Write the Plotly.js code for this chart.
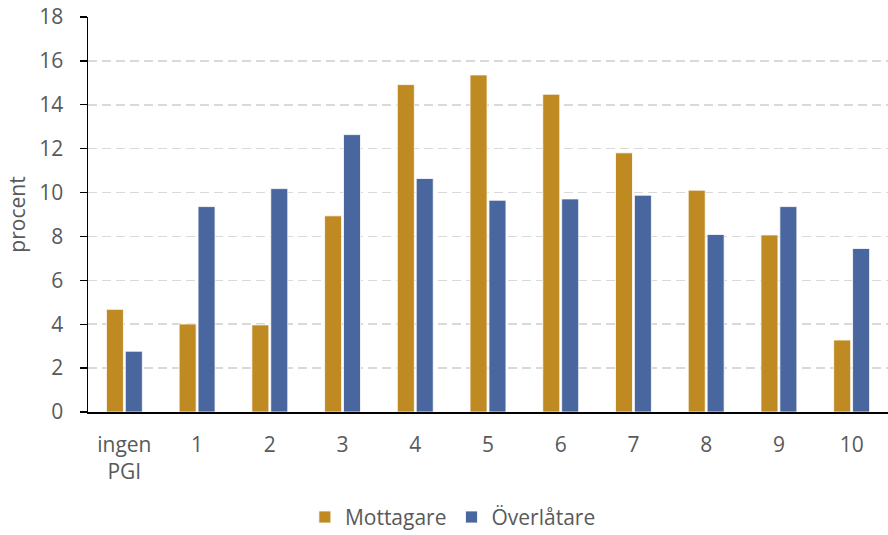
<!DOCTYPE html>
<html>
<head>
<meta charset="utf-8">
<script src="https://cdn.plot.ly/plotly-3.0.1.min.js"></script>
<style>html,body{margin:0;padding:0;background:#fff;}#chart{width:888px;height:535px;}</style>
</head>
<body>
<div id="chart"></div>
<script>
const categories = ["ingen<br>PGI", "1", "2", "3", "4", "5", "6", "7", "8", "9", "10"];
const mottagare = [4.68, 4.01, 3.97, 8.94, 14.92, 15.36, 14.48, 11.81, 10.11, 8.07, 3.28];
const overlatare = [2.77, 9.36, 10.18, 12.64, 10.64, 9.65, 9.71, 9.88, 8.09, 9.36, 7.45];
const yTicks = [0, 2, 4, 6, 8, 10, 12, 14, 16, 18];

const fontFam = "Open Sans, Noto Sans, sans-serif";
const traces = [
  {type: "bar", name: "Mottagare", x: categories, y: mottagare,
   marker: {color: "#C08A23", line: {color: "#ffffff", width: 0.8}}},
  {type: "bar", name: "Överlåtare", x: categories, y: overlatare,
   marker: {color: "#4A669E", line: {color: "#ffffff", width: 0.8}}}
];
const layout = {
  width: 888, height: 535,
  margin: {l: 88, r: 0, t: 17, b: 123},
  paper_bgcolor: "#fff", plot_bgcolor: "#fff",
  barmode: "group", bargap: 0.48, bargroupgap: 0.1,
  font: {family: fontFam, size: 21, color: "#595959"},
  showlegend: true,
  legend: {orientation: "h", xref: "container", x: 0.51, xanchor: "center",
           yref: "container", y: 0.033, yanchor: "middle",
           font: {size: 21, color: "#595959"}, itemwidth: 30, traceorder: "normal"},
  xaxis: {type: "category", showline: true, linecolor: "#000", linewidth: 1.5,
          ticks: "", tickfont: {size: 21, color: "#595959"}, ticklabelstandoff: 13,
          showgrid: false, zeroline: false, automargin: false},
  yaxis: {range: [0, 18], tickvals: yTicks, ticktext: yTicks.map(String),
          showline: true, linecolor: "#000", linewidth: 1.5,
          ticks: "outside", ticklen: 7, tickcolor: "#000", tickwidth: 1.3,
          ticklabelstandoff: 12, automargin: false,
          showgrid: true, gridcolor: "#d9d9d9", gridwidth: 1.6, griddash: "9px,5px",
          zeroline: false, tickfont: {size: 21, color: "#595959"},
          title: {text: "procent", font: {size: 21, color: "#595959"}, standoff: 8}}
};
Plotly.newPlot("chart", traces, layout, {displayModeBar: false, staticPlot: true});
</script>
</body>
</html>
